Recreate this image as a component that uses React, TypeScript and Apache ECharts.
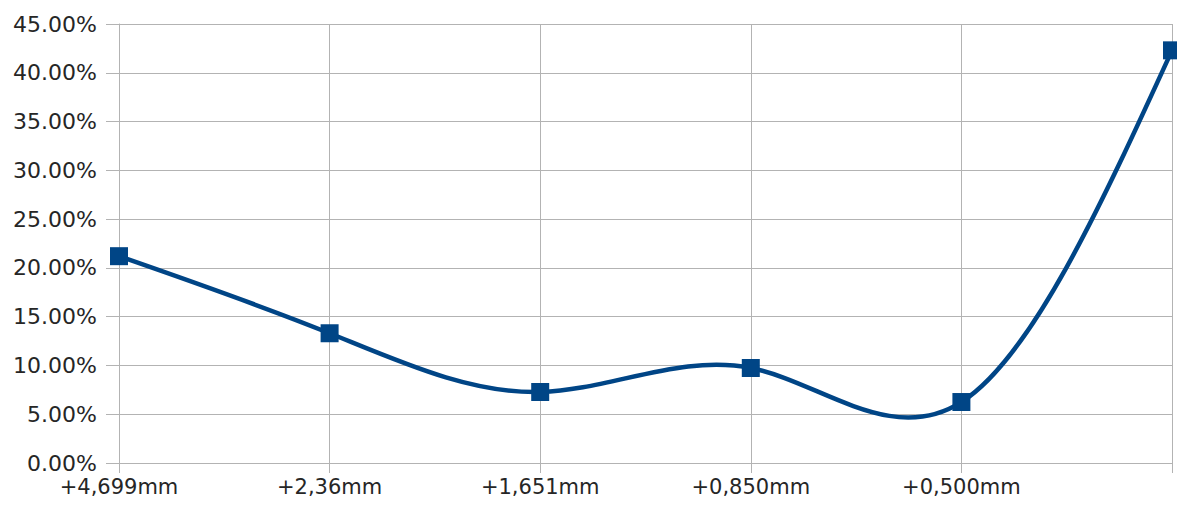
import { useEffect, useRef } from 'react';
import * as echarts from 'echarts';

// Sieve openings (last category carries no printed label)
const sieveSizes: string[] = ['+4,699mm', '+2,36mm', '+1,651mm', '+0,850mm', '+0,500mm', ''];
// Percentage retained on each sieve
const retainedPct: number[] = [21.2, 13.3, 7.28, 9.74, 6.25, 42.3];
// Value axis range and step
const yMin = 0;
const yMax = 45;
const yStep = 5;

const SERIES_COLOR = '#004586';
const GRID_COLOR = '#b3b3b3';
const TEXT_COLOR = '#262626';
const FONT = '"DejaVu Sans", "Liberation Sans", sans-serif';

// Natural cubic spline through pixel points, emitted as cubic Bezier segments.
function splinePath(pts: number[][]): string {
  const n = pts.length;
  if (n < 2) return '';
  const y = pts.map((p) => p[1]);
  const h = (pts[n - 1][0] - pts[0][0]) / (n - 1);
  const M: number[] = new Array(n).fill(0);
  const m = n - 2;
  const c: number[] = [];
  const d: number[] = [];
  for (let i = 1; i <= m; i++) {
    const rhs = (6 * (y[i + 1] - 2 * y[i] + y[i - 1])) / (h * h);
    if (i === 1) {
      c[i] = 1 / 4;
      d[i] = rhs / 4;
    } else {
      const den = 4 - c[i - 1];
      c[i] = 1 / den;
      d[i] = (rhs - d[i - 1]) / den;
    }
  }
  for (let i = m; i >= 1; i--) {
    M[i] = i === m ? d[i] : d[i] - c[i] * M[i + 1];
  }
  let path = `M${pts[0][0]},${pts[0][1]}`;
  for (let i = 0; i < n - 1; i++) {
    const [x0, y0] = pts[i];
    const [x1, y1] = pts[i + 1];
    const hh = x1 - x0;
    const s0 = (y1 - y0) / hh - (hh * (2 * M[i] + M[i + 1])) / 6;
    const s1 = (y1 - y0) / hh + (hh * (M[i] + 2 * M[i + 1])) / 6;
    const c1x = x0 + hh / 3;
    const c1y = y0 + (s0 * hh) / 3;
    const c2x = x1 - hh / 3;
    const c2y = y1 - (s1 * hh) / 3;
    path += ` C${c1x},${c1y} ${c2x},${c2y} ${x1},${y1}`;
  }
  return path;
}

export default function App() {
  const ref = useRef<HTMLDivElement>(null);

  useEffect(() => {
    if (!ref.current) return;
    const chart = echarts.init(ref.current, undefined, { renderer: 'svg' });
    chart.setOption({
      animation: false,
      backgroundColor: '#ffffff',
      grid: { left: 119, right: 5, top: 24, bottom: 46, containLabel: false },
      xAxis: {
        type: 'category',
        data: sieveSizes,
        boundaryGap: false,
        axisLine: { show: true, lineStyle: { color: GRID_COLOR, width: 1 } },
        axisTick: { show: true, length: 10, alignWithLabel: true, lineStyle: { color: GRID_COLOR } },
        axisLabel: { color: TEXT_COLOR, fontSize: 21, fontFamily: FONT, margin: 13, interval: 0 },
        splitLine: { show: true, lineStyle: { color: GRID_COLOR, width: 1 } },
      },
      yAxis: {
        type: 'value',
        min: yMin,
        max: yMax,
        interval: yStep,
        axisLine: { show: true, lineStyle: { color: GRID_COLOR, width: 1 } },
        axisTick: { show: true, length: 13, lineStyle: { color: GRID_COLOR } },
        axisLabel: {
          color: TEXT_COLOR,
          fontSize: 22,
          fontFamily: FONT,
          margin: 22,
          formatter: (v: number) => `${v.toFixed(2)}%`,
        },
        splitLine: { show: true, lineStyle: { color: GRID_COLOR, width: 1 } },
      },
      series: [
        {
          type: 'custom',
          name: 'curve',
          data: retainedPct.map((v, i) => [i, v]),
          encode: { x: 0, y: 1 },
          z: 2,
          silent: true,
          renderItem: (params: any, api: any) => {
            if (params.dataIndex !== 0) return null;
            const pts = retainedPct.map((v, i) => api.coord([i, v]));
            return {
              type: 'path',
              shape: { pathData: splinePath(pts) },
              style: { fill: 'none', stroke: SERIES_COLOR, lineWidth: 4.5, lineJoin: 'round' },
            };
          },
        },
        {
          type: 'scatter',
          name: 'points',
          data: retainedPct,
          symbol: 'rect',
          symbolSize: 18,
          z: 3,
          itemStyle: { color: SERIES_COLOR, opacity: 1 },
        },
      ],
    });
    return () => chart.dispose();
  }, []);

  return (
    <div
      ref={ref}
      style={{ position: 'absolute', left: 0, top: 0, width: 1177, height: 509, background: '#fff' }}
    />
  );
}
